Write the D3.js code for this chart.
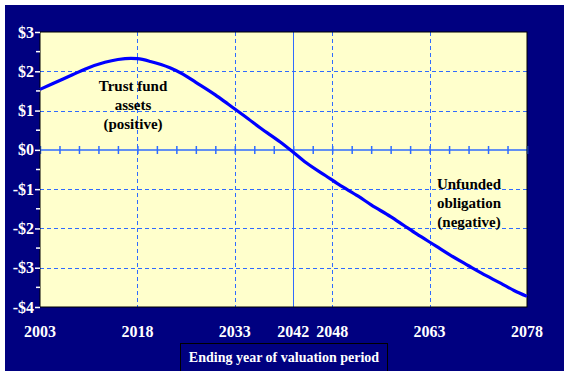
<!DOCTYPE html>
<html>
<head>
<meta charset="utf-8">
<script src="https://cdn.jsdelivr.net/npm/d3@7"></script>
<style>
  body { margin: 0; background: #fff; }
  svg { display: block; }
</style>
</head>
<body>
<svg id="chart" width="569" height="375"></svg>
<script>
// data
var years = [2003, 2005, 2008, 2010, 2013, 2015, 2017, 2018, 2020, 2023, 2025, 2027, 2030, 2032, 2035, 2037, 2040, 2042, 2044, 2047, 2049, 2052, 2054, 2057, 2059, 2061, 2064, 2066, 2069, 2071, 2074, 2076, 2078];
var values = [1.54, 1.69, 1.91, 2.06, 2.23, 2.30, 2.33, 2.32, 2.25, 2.09, 1.93, 1.72, 1.40, 1.16, 0.80, 0.55, 0.20, -0.06, -0.33, -0.66, -0.88, -1.18, -1.40, -1.70, -1.92, -2.14, -2.45, -2.66, -2.95, -3.14, -3.40, -3.58, -3.73];
var xTickYears = [2003, 2018, 2033, 2042, 2048, 2063, 2078];
var dashedYears = [2018, 2033, 2048, 2063];
var solidYears = [2042];
var yTicks = [3, 2, 1, 0, -1, -2, -3, -4];
var yMinor = [2.5, 1.5, 0.5, -0.5, -1.5, -2.5, -3.5];
var xTitle = "Ending year of valuation period";
var noteTop = ["Trust fund", "assets", "(positive)"];
var noteBottom = ["Unfunded", "obligation", "(negative)"];

var svg = d3.select("#chart");
var serif = "'Liberation Serif', 'Times New Roman', serif";
var gridColor = "#2f6bff";

// navy background
svg.append("rect").attr("x", 5).attr("y", 5).attr("width", 559).attr("height", 366).attr("fill", "#000080");

var pLeft = 40, pRight = 527, pTop = 32, pBottom = 307;
var x = d3.scaleLinear().domain([2003, 2078]).range([pLeft, pRight]);
var y = d3.scaleLinear().domain([-4, 3]).range([pBottom, pTop]);

svg.append("rect")
    .attr("x", pLeft).attr("y", pTop)
    .attr("width", pRight - pLeft).attr("height", pBottom - pTop)
    .attr("fill", "#ffffcc");

// horizontal dashed grid
svg.append("g").selectAll("line")
    .data(yTicks.filter(function (d) { return d !== 0 && d !== 3 && d !== -4; }))
    .enter().append("line")
    .attr("x1", pLeft).attr("x2", pRight)
    .attr("y1", function (d) { return Math.round(y(d)) + 0.5; })
    .attr("y2", function (d) { return Math.round(y(d)) + 0.5; })
    .attr("stroke", gridColor).attr("stroke-width", 1)
    .attr("stroke-dasharray", "4,3");

// vertical grid
svg.append("g").selectAll("line")
    .data(dashedYears)
    .enter().append("line")
    .attr("x1", function (d) { return Math.round(x(d)) + 0.5; })
    .attr("x2", function (d) { return Math.round(x(d)) + 0.5; })
    .attr("y1", pTop).attr("y2", pBottom)
    .attr("stroke", gridColor).attr("stroke-width", 1)
    .attr("stroke-dasharray", "4,3");

svg.append("g").selectAll("line")
    .data(solidYears)
    .enter().append("line")
    .attr("x1", function (d) { return Math.round(x(d)) + 0.5; })
    .attr("x2", function (d) { return Math.round(x(d)) + 0.5; })
    .attr("y1", pTop).attr("y2", pBottom)
    .attr("stroke", gridColor).attr("stroke-width", 1);

// zero axis with crossing ticks every 3 years
var zeroAxis = d3.axisBottom(x)
    .tickValues(d3.range(2003, 2079, 3))
    .tickSize(4)
    .tickFormat("");
var zg = svg.append("g").attr("transform", "translate(0," + Math.round(y(0)) + ")").call(zeroAxis);
zg.select(".domain").attr("stroke", gridColor).attr("stroke-width", 1.5).attr("d", "M" + pLeft + ",0H" + pRight);
zg.selectAll(".tick line").attr("stroke", gridColor).attr("stroke-width", 1.5).attr("y1", -4).attr("y2", 4);

// plot border
svg.append("rect")
    .attr("x", pLeft).attr("y", pTop)
    .attr("width", pRight - pLeft).attr("height", pBottom - pTop)
    .attr("fill", "none").attr("stroke", "#000").attr("stroke-width", 1);

// series line
var line = d3.line()
    .x(function (d, i) { return x(years[i]); })
    .y(function (d) { return y(d); })
    .curve(d3.curveMonotoneX);
svg.append("path")
    .datum(values)
    .attr("d", line)
    .attr("fill", "none")
    .attr("stroke", "#0000ff")
    .attr("stroke-width", 3.2);

// y axis
var yAxis = d3.axisLeft(y)
    .tickValues(yTicks)
    .tickSize(5)
    .tickPadding(1)
    .tickFormat(function (d) { return (d < 0 ? "-$" : "$") + Math.abs(d); });
var yg = svg.append("g").attr("transform", "translate(" + pLeft + ",0)").call(yAxis);
yg.select(".domain").remove();
yg.selectAll(".tick line").attr("stroke", "#fff").attr("stroke-width", 1.5);
yg.selectAll(".tick text")
    .attr("fill", "#fff")
    .style("font-family", serif)
    .style("font-weight", "bold")
    .style("font-size", "16px");

svg.append("g").selectAll("line")
    .data(yMinor)
    .enter().append("line")
    .attr("x1", pLeft - 4).attr("x2", pLeft)
    .attr("y1", function (d) { return y(d); })
    .attr("y2", function (d) { return y(d); })
    .attr("stroke", "#fff").attr("stroke-width", 1.5);

// x labels
svg.append("g").selectAll("text")
    .data(xTickYears)
    .enter().append("text")
    .attr("x", function (d) { return x(d); })
    .attr("y", 337)
    .attr("text-anchor", "middle")
    .attr("fill", "#fff")
    .style("font-family", serif)
    .style("font-weight", "bold")
    .style("font-size", "16px")
    .text(function (d) { return d; });

// x title box
svg.append("rect")
    .attr("x", 180.5).attr("y", 343.5)
    .attr("width", 207).attr("height", 30)
    .attr("fill", "none").attr("stroke", "#000").attr("stroke-width", 1);
svg.append("text")
    .attr("x", 284).attr("y", 362)
    .attr("text-anchor", "middle")
    .attr("fill", "#fff")
    .style("font-family", serif)
    .style("font-weight", "bold")
    .style("font-size", "14px")
    .text(xTitle);
// restore white margin below the box
svg.append("rect").attr("x", 0).attr("y", 371).attr("width", 569).attr("height", 4).attr("fill", "#fff");

// annotations
function note(lines, cx, y0) {
    svg.append("g").selectAll("text")
        .data(lines)
        .enter().append("text")
        .attr("x", cx)
        .attr("y", function (d, i) { return y0 + i * 19; })
        .attr("text-anchor", "middle")
        .attr("fill", "#000")
        .style("font-family", serif)
        .style("font-weight", "bold")
        .style("font-size", "15px")
        .text(function (d) { return d; });
}
note(noteTop, 133, 91);
note(noteBottom, 469, 189);
</script>
</body>
</html>
